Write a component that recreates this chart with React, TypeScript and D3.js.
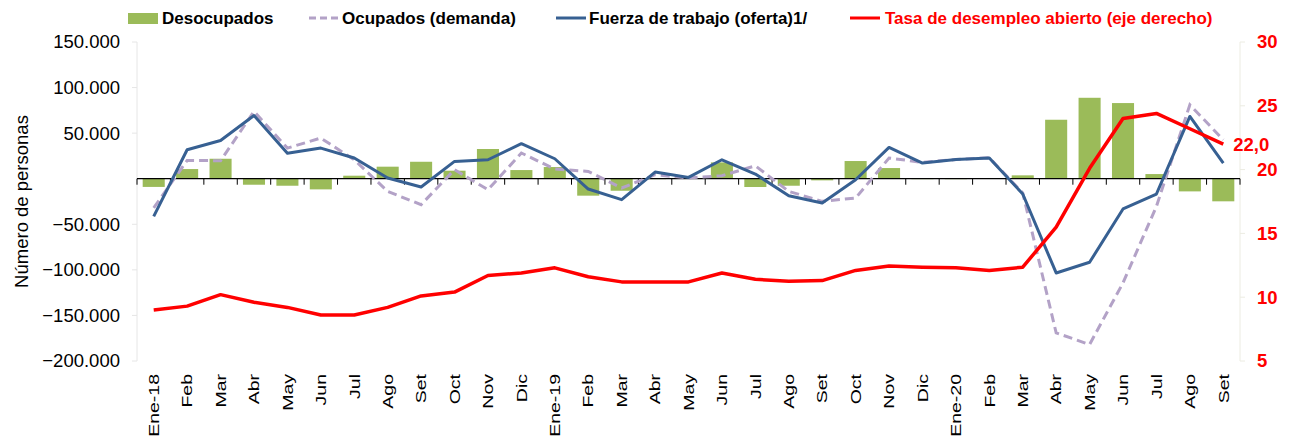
import React, { useRef, useEffect } from "react";
import * as d3 from "d3";

// Meses (Ene-18 a Set-20)
const months = [
  "Ene-18", "Feb", "Mar", "Abr", "May", "Jun", "Jul", "Ago", "Set", "Oct", "Nov", "Dic",
  "Ene-19", "Feb", "Mar", "Abr", "May", "Jun", "Jul", "Ago", "Set", "Oct", "Nov", "Dic",
  "Ene-20", "Feb", "Mar", "Abr", "May", "Jun", "Jul", "Ago", "Set",
];

// Desocupados (variación, personas)
const desocupados = [
  -9000, 10600, 21900, -6600, -7700, -11700, 3300, 13200, 18600, 8800, 32600, 9500,
  12800, -18600, -13200, -500, 500, 17900, -9100, -7700, -1800, 19400, 11700, -500,
  -500, 500, 3700, 64700, 88800, 83000, 5100, -13900, -24800,
];

// Ocupados (demanda)
const ocupados = [
  -32000, 20100, 19700, 73800, 33600, 44600, 20800, -13900, -28500, 9900, -12100, 28200,
  10600, 8000, -10200, 4400, 800, 3300, 14200, -13900, -24800, -21200, 22700, 17900,
  21000, 23000, -15700, -169100, -181900, -114300, -30300, 81100, 42700,
];

// Fuerza de trabajo (oferta)
const fuerza = [
  -41300, 31800, 42000, 69400, 28000, 33600, 22700, 800, -9100, 19000, 20800, 38400,
  21900, -11300, -23000, 7300, 1400, 20800, 5100, -18600, -26700, -1100, 34300, 17200,
  21200, 22700, -16800, -103400, -91700, -33200, -16800, 68300, 17200,
];

// Tasa de desempleo abierto (%), eje derecho
const tasa = [
  9.0, 9.3, 10.2, 9.6, 9.2, 8.6, 8.6, 9.2, 10.1, 10.4, 11.7, 11.9,
  12.3, 11.6, 11.2, 11.2, 11.2, 11.9, 11.4, 11.25, 11.3, 12.1, 12.45, 12.35,
  12.3, 12.1, 12.35, 15.5, 20.1, 24.0, 24.4, 23.2, 22.0,
];

const leftTicks = [-200000, -150000, -100000, -50000, 50000, 100000, 150000];
const rightTicks = [5, 10, 15, 20, 25, 30];

const FONT = "'Liberation Sans', Arial, sans-serif";

const App: React.FC = () => {
  const svgRef = useRef<SVGSVGElement>(null);

  useEffect(() => {
    const width = 1291;
    const height = 438;
    const left = 137;
    const right = 1240;
    const top = 42;
    const bottom = 361;

    const svg = d3
      .select(svgRef.current)
      .attr("width", width)
      .attr("height", height)
      .style("font-family", FONT);

    svg.selectAll("*").remove();

    const idx = months.map((_, i) => i);
    const x = d3
      .scaleBand<number>()
      .domain(idx)
      .range([left, right])
      .paddingInner(0.34)
      .paddingOuter(0.17);
    const cx = (i: number) => (x(i) as number) + x.bandwidth() / 2;

    const y = d3.scaleLinear().domain([-200000, 150000]).range([bottom, top]);
    const y2 = d3.scaleLinear().domain([5, 30]).range([bottom, top]);

    const fmt = d3.formatLocale({
      decimal: ",",
      thousands: ".",
      grouping: [3],
      currency: ["", ""],
    }).format(",d");

    // left axis (light)
    const la = svg.append("g");
    la.append("line")
      .attr("x1", left).attr("x2", left)
      .attr("y1", top).attr("y2", bottom)
      .attr("stroke", "#e6e6e6");
    la.selectAll("line.t")
      .data(leftTicks)
      .join("line")
      .attr("class", "t")
      .attr("x1", left - 5).attr("x2", left)
      .attr("y1", (d) => y(d)).attr("y2", (d) => y(d))
      .attr("stroke", "#e6e6e6");
    la.selectAll("text")
      .data(leftTicks)
      .join("text")
      .attr("x", 120)
      .attr("y", (d) => y(d))
      .attr("dy", "0.35em")
      .attr("text-anchor", "end")
      .attr("font-size", 18.5)
      .attr("fill", "#000")
      .text((d) => fmt(d));

    svg.append("text")
      .attr("transform", `translate(28,${(top + bottom) / 2}) rotate(-90)`)
      .attr("text-anchor", "middle")
      .attr("font-size", 18.5)
      .attr("fill", "#000")
      .text("Número de personas");

    // right axis (light)
    const ra = svg.append("g");
    ra.append("line")
      .attr("x1", right).attr("x2", right)
      .attr("y1", top).attr("y2", bottom)
      .attr("stroke", "#ecece2");
    ra.selectAll("line.t")
      .data(rightTicks)
      .join("line")
      .attr("class", "t")
      .attr("x1", right).attr("x2", right + 5)
      .attr("y1", (d) => y2(d)).attr("y2", (d) => y2(d))
      .attr("stroke", "#ecece2");
    ra.selectAll("text")
      .data(rightTicks)
      .join("text")
      .attr("x", 1257)
      .attr("y", (d) => y2(d))
      .attr("dy", "0.35em")
      .attr("font-size", 18.5)
      .attr("font-weight", "bold")
      .attr("fill", "#ff0000")
      .text((d) => d);

    // bars
    svg.append("g")
      .selectAll("rect")
      .data(desocupados)
      .join("rect")
      .attr("x", (_, i) => x(i) as number)
      .attr("width", x.bandwidth())
      .attr("y", (d) => y(Math.max(0, d)))
      .attr("height", (d) => Math.abs(y(d) - y(0)))
      .attr("fill", "#9bbb59");

    // zero axis with ticks between categories
    const z = svg.append("g").attr("stroke", "#000");
    z.append("line")
      .attr("x1", left).attr("x2", right)
      .attr("y1", y(0)).attr("y2", y(0))
      .attr("stroke-width", 1.2);
    z.selectAll("line.t")
      .data(d3.range(months.length + 1))
      .join("line")
      .attr("class", "t")
      .attr("x1", (i) => left + i * x.step())
      .attr("x2", (i) => left + i * x.step())
      .attr("y1", y(0))
      .attr("y2", y(0) + 6);

    const line = (yy: (v: number) => number) =>
      d3.line<number>().x((_, i) => cx(i)).y((d) => yy(d));

    svg.append("path")
      .datum(ocupados)
      .attr("d", line(y))
      .attr("fill", "none")
      .attr("stroke", "#b3a2c7")
      .attr("stroke-width", 3)
      .attr("stroke-dasharray", "9,5");

    svg.append("path")
      .datum(fuerza)
      .attr("d", line(y))
      .attr("fill", "none")
      .attr("stroke", "#376092")
      .attr("stroke-width", 3)
      .attr("stroke-linejoin", "round");

    svg.append("path")
      .datum(tasa)
      .attr("d", line(y2))
      .attr("fill", "none")
      .attr("stroke", "#ff0000")
      .attr("stroke-width", 3.5)
      .attr("stroke-linejoin", "round");

    // last value label
    const last = tasa.length - 1;
    svg.append("text")
      .attr("x", cx(last) + 10)
      .attr("y", y2(tasa[last]))
      .attr("dy", "0.35em")
      .attr("font-size", 18.5)
      .attr("font-weight", "bold")
      .attr("fill", "#ff0000")
      .text(d3.format(".1f")(tasa[last]).replace(".", ","));

    // x labels
    svg.append("g")
      .selectAll("text")
      .data(months)
      .join("text")
      .attr("transform", (_, i) => `translate(${cx(i)},374) rotate(-90) scale(1.3,1)`)
      .attr("text-anchor", "end")
      .attr("dy", "0.35em")
      .attr("font-size", 15)
      .attr("fill", "#000")
      .text((d) => d);

    // legend
    const lg = svg.append("g").attr("font-size", 17).attr("font-weight", "bold");
    const ly = 18;
    lg.append("rect").attr("x", 128).attr("y", ly - 5).attr("width", 30).attr("height", 11).attr("fill", "#9bbb59");
    lg.append("text").attr("x", 162).attr("y", ly).attr("dy", "0.35em").text("Desocupados");
    lg.append("line").attr("x1", 309).attr("x2", 339).attr("y1", ly).attr("y2", ly)
      .attr("stroke", "#b3a2c7").attr("stroke-width", 3).attr("stroke-dasharray", "7,4");
    lg.append("text").attr("x", 342).attr("y", ly).attr("dy", "0.35em").text("Ocupados (demanda)");
    lg.append("line").attr("x1", 556).attr("x2", 586).attr("y1", ly).attr("y2", ly)
      .attr("stroke", "#376092").attr("stroke-width", 3);
    lg.append("text").attr("x", 589).attr("y", ly).attr("dy", "0.35em").text("Fuerza de trabajo (oferta)1/");
    lg.append("line").attr("x1", 850).attr("x2", 880).attr("y1", ly).attr("y2", ly)
      .attr("stroke", "#ff0000").attr("stroke-width", 3);
    lg.append("text").attr("x", 885).attr("y", ly).attr("dy", "0.35em").attr("fill", "#ff0000")
      .text("Tasa de desempleo abierto (eje derecho)");
  }, []);

  return (
    <svg
      ref={svgRef}
      style={{ position: "absolute", left: 0, top: 0, background: "#fff" }}
    ></svg>
  );
};

export default App;
